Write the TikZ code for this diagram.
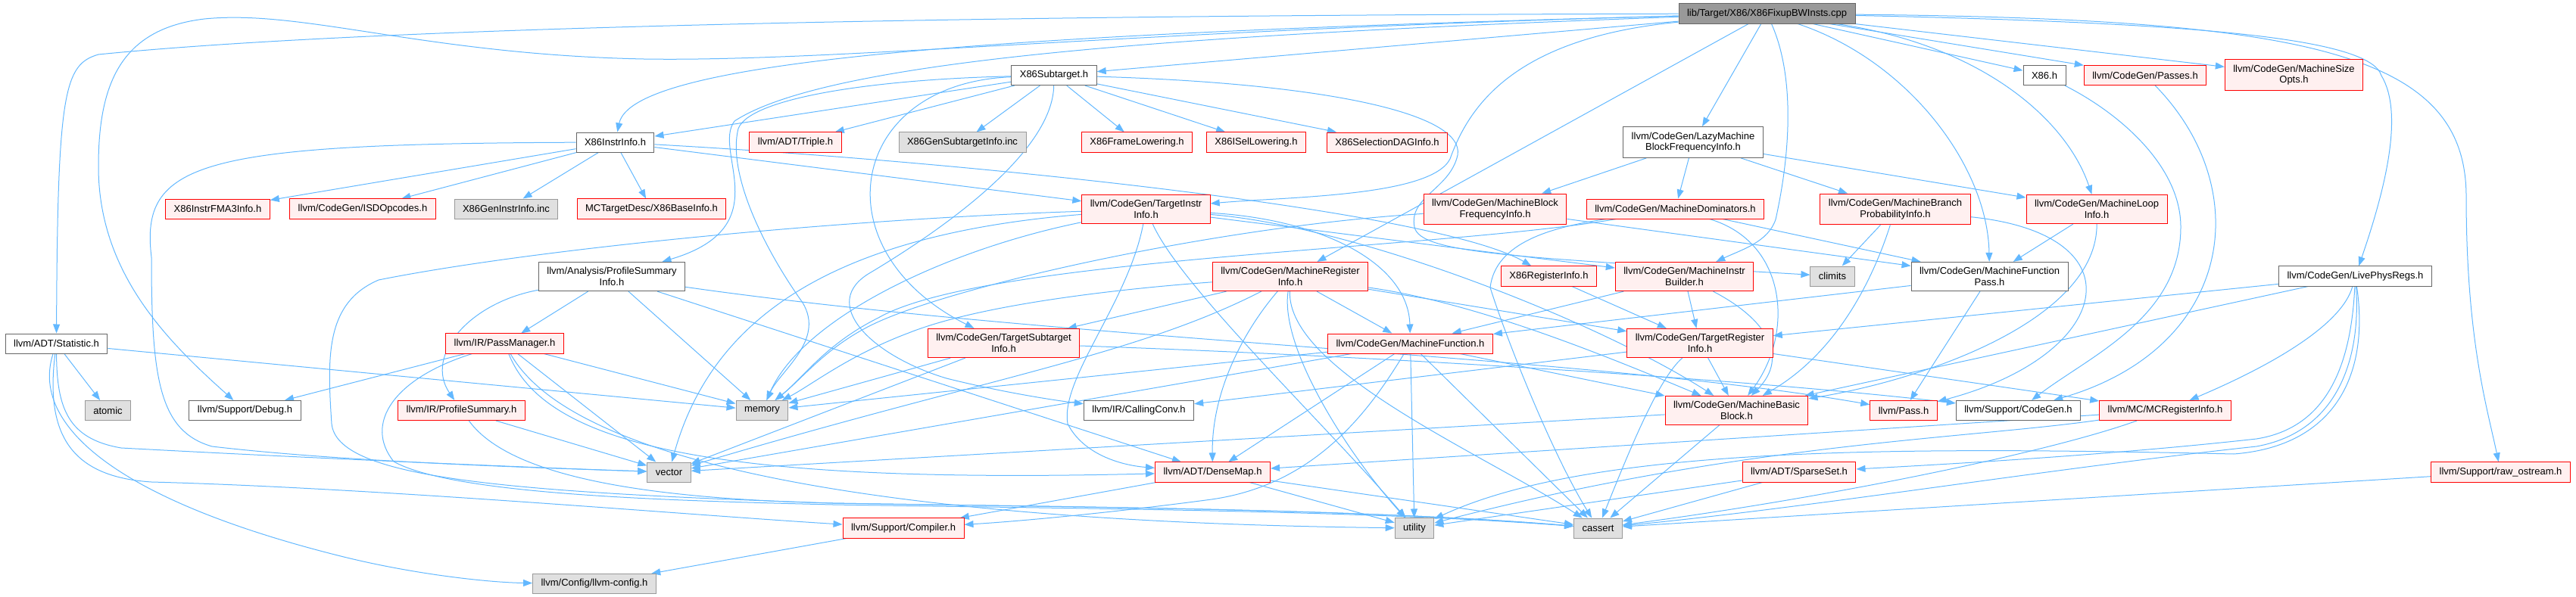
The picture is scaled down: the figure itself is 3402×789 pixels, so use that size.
\documentclass[tikz,border=0pt]{standalone}
\usepackage{fontspec}
\setmainfont{Liberation Sans}
\usetikzlibrary{arrows.meta}
\definecolor{EdgeBlue}{HTML}{63B8FF}
\definecolor{TruncRed}{HTML}{FF0000}
\definecolor{TruncFill}{HTML}{FFF0F0}
\definecolor{SysFill}{HTML}{E0E0E0}
\definecolor{SysLine}{HTML}{999999}
\definecolor{PlainLine}{HTML}{666666}
\definecolor{RootFill}{HTML}{999999}
\pgfdeclarelayer{edges}
\pgfsetlayers{edges,main}

\begin{document}
\begin{tikzpicture}[
    x=1pt, y=-1pt,
    every node/.style={font=\fontsize{13}{14.7}\selectfont, align=center, inner xsep=11pt, inner ysep=7pt, minimum height=26pt, line width=1pt},
    srcfile/.style={rectangle, draw=PlainLine, fill=RootFill},
    header/.style={rectangle, draw=PlainLine, fill=white},
    truncated/.style={rectangle, draw=TruncRed, fill=TruncFill},
    syshdr/.style={rectangle, draw=SysLine, fill=SysFill},
    arrow/.style={-{Stealth[length=12pt, width=9pt, inset=0pt]}, draw=EdgeBlue, line width=1pt}
  ]
    \useasboundingbox (0,0) rectangle (3402,789);

    % Source file
    \node[srcfile] (root) at (2333.5, 18) {lib/Target/X86/X86FixupBWInsts.cpp};

    % Rank 1
    \node[header] (sub) at (1392, 99.5) {X86Subtarget.h};
    \node[header] (xh) at (2700, 99.5) {X86.h};
    \node[truncated] (passes) at (2833, 99.5) {llvm/CodeGen/Passes.h};
    \node[truncated] (sizeopts) at (3029.5, 99) {llvm/CodeGen/MachineSize\\Opts.h};

    % Rank 2
    \node[header] (instrinfo) at (812.5, 188) {X86InstrInfo.h};
    \node[truncated] (triple) at (1050.5, 188) {llvm/ADT/Triple.h};
    \node[syshdr] (gensub) at (1271, 188) {X86GenSubtargetInfo.inc};
    \node[truncated] (framelow) at (1501.5, 188) {X86FrameLowering.h};
    \node[truncated] (isel) at (1659, 188) {X86ISelLowering.h};
    \node[truncated] (seldag) at (1832, 188) {X86SelectionDAGInfo.h};
    \node[header] (lazy) at (2236, 188) {llvm/CodeGen/LazyMachine\\BlockFrequencyInfo.h};

    % Rank 3
    \node[truncated] (fma) at (287.5, 276) {X86InstrFMA3Info.h};
    \node[truncated] (isd) at (479, 276) {llvm/CodeGen/ISDOpcodes.h};
    \node[syshdr] (geninstr) at (668.5, 276) {X86GenInstrInfo.inc};
    \node[truncated] (baseinfo) at (860.5, 276) {MCTargetDesc/X86BaseInfo.h};
    \node[truncated] (tii) at (1513.5, 276.5) {llvm/CodeGen/TargetInstr\\Info.h};
    \node[truncated] (mbfi) at (1974.5, 276.5) {llvm/CodeGen/MachineBlock\\FrequencyInfo.h};
    \node[truncated] (mdom) at (2212.5, 276) {llvm/CodeGen/MachineDominators.h};
    \node[truncated] (mbpi) at (2503, 276.5) {llvm/CodeGen/MachineBranch\\ProbabilityInfo.h};
    \node[truncated] (mli) at (2769, 276.5) {llvm/CodeGen/MachineLoop\\Info.h};

    % Rank 4
    \node[header] (psi) at (808, 365.5) {llvm/Analysis/ProfileSummary\\Info.h};
    \node[truncated] (mri) at (1704, 365.5) {llvm/CodeGen/MachineRegister\\Info.h};
    \node[truncated] (xri) at (2045.5, 365) {X86RegisterInfo.h};
    \node[truncated] (mib) at (2224.5, 365.5) {llvm/CodeGen/MachineInstr\\Builder.h};
    \node[syshdr] (climits) at (2420, 365) {climits};
    \node[header] (mfp) at (2627.5, 365.5) {llvm/CodeGen/MachineFunction\\Pass.h};
    \node[header] (lpr) at (3110.5, 365) {llvm/CodeGen/LivePhysRegs.h};

    % Rank 5
    \node[header] (stat) at (74.5, 454) {llvm/ADT/Statistic.h};
    \node[truncated] (pm) at (666.5, 454) {llvm/IR/PassManager.h};
    \node[truncated] (tsi) at (1325.5, 453.5) {llvm/CodeGen/TargetSubtarget\\Info.h};
    \node[truncated] (mf) at (1862.5, 454) {llvm/CodeGen/MachineFunction.h};
    \node[truncated] (tri) at (2245, 453.5) {llvm/CodeGen/TargetRegister\\Info.h};

    % Rank 6
    \node[syshdr] (atomic) at (142.5, 542.5) {atomic};
    \node[header] (debug) at (323.5, 542.5) {llvm/Support/Debug.h};
    \node[truncated] (ps) at (609.5, 542.5) {llvm/IR/ProfileSummary.h};
    \node[syshdr] (memory) at (1006.5, 542.5) {memory};
    \node[header] (cconv) at (1504, 542.5) {llvm/IR/CallingConv.h};
    \node[truncated] (mbb) at (2293.5, 542.5) {llvm/CodeGen/MachineBasic\\Block.h};
    \node[truncated] (pass) at (2514, 542.5) {llvm/Pass.h};
    \node[header] (cgen) at (2665.5, 542.5) {llvm/Support/CodeGen.h};
    \node[truncated] (mcri) at (2859.5, 542.5) {llvm/MC/MCRegisterInfo.h};

    % Rank 7
    \node[syshdr] (vector) at (883.5, 624) {vector};
    \node[truncated] (dmap) at (1601.5, 624) {llvm/ADT/DenseMap.h};
    \node[truncated] (sset) at (2376, 624) {llvm/ADT/SparseSet.h};
    \node[truncated] (raw) at (3302.5, 624) {llvm/Support/raw\_ostream.h};

    % Rank 8 and 9
    \node[truncated] (compiler) at (1193, 698) {llvm/Support/Compiler.h};
    \node[syshdr] (utility) at (1868, 698) {utility};
    \node[syshdr] (cassert) at (2110.5, 698) {cassert};
    \node[syshdr] (config) at (785, 771.5) {llvm/Config/llvm-config.h};

    \begin{pgfonlayer}{edges}
    % Includes of the source file
    \draw[arrow] (root) -- (sub);
    \draw[arrow] (root) .. controls (1300,45) and (835,80) .. (instrinfo);
    \draw[arrow] (root) .. controls (1300,20) and (500,35) .. (130,72) .. controls (85,85) and (76,120) .. (stat);
    \draw[arrow] (root) .. controls (1500,40) and (1100,82) .. (850,78) .. controls (560,72) and (400,12) .. (270,25) .. controls (160,38) and (130,110) .. (130,220) .. controls (130,360) and (220,450) .. (debug);
    \draw[arrow] (root) .. controls (1600,45) and (1100,75) .. (970,160) .. controls (940,200) and (1030,300) .. (psi);
    \draw[arrow] (root) .. controls (2000,50) and (1940,140) .. (1915,210) .. controls (1890,260) and (1700,260) .. (tii);
    \draw[arrow] (root) -- (mri);
    \draw[arrow] (root) -- (lazy);
    \draw[arrow] (root) .. controls (2370,100) and (2365,200) .. (2345,290) .. controls (2335,320) and (2300,330) .. (mib);
    \draw[arrow] (root) .. controls (2520,80) and (2625,220) .. (mfp);
    \draw[arrow] (root) .. controls (2620,60) and (2730,160) .. (mli);
    \draw[arrow] (root) -- (xh);
    \draw[arrow] (root) -- (passes);
    \draw[arrow] (root) -- (sizeopts);
    \draw[arrow] (root) .. controls (2900,30) and (3130,50) .. (3145,100) .. controls (3175,150) and (3150,250) .. (lpr);
    \draw[arrow] (root) .. controls (3050,25) and (3257,70) .. (3257,260) .. controls (3257,450) and (3285,540) .. (raw);

    % X86Subtarget.h
    \draw[arrow] (sub) -- (instrinfo);
    \draw[arrow] (sub) -- (triple);
    \draw[arrow] (sub) -- (gensub);
    \draw[arrow] (sub) -- (framelow);
    \draw[arrow] (sub) -- (isel);
    \draw[arrow] (sub) -- (seldag);
    \draw[arrow] (sub) .. controls (1120,110) and (1080,330) .. (tsi);
    \draw[arrow] (sub) .. controls (1150,105) and (990,130) .. (975,170) .. controls (960,230) and (1010,330) .. (1060,400) .. controls (1090,450) and (1030,490) .. (memory);
    \draw[arrow] (sub) .. controls (1390,200) and (1250,300) .. (1150,360) .. controls (1080,400) and (1150,470) .. (1250,500) .. controls (1330,520) and (1400,530) .. (cconv);
    \draw[arrow] (sub) .. controls (1750,110) and (1935,150) .. (1925,205) .. controls (1915,250) and (1860,260) .. (1868,300) .. controls (1875,335) and (2000,340) .. (climits);

    % X86InstrInfo.h
    \draw[arrow] (instrinfo) -- (fma);
    \draw[arrow] (instrinfo) -- (isd);
    \draw[arrow] (instrinfo) -- (geninstr);
    \draw[arrow] (instrinfo) -- (baseinfo);
    \draw[arrow] (instrinfo) -- (tii);
    \draw[arrow] (instrinfo) .. controls (1300,215) and (1900,280) .. (xri);
    \draw[arrow] (instrinfo) .. controls (260,190) and (185,215) .. (200,340) .. controls (200,500) and (210,570) .. (280,590) .. controls (450,610) and (700,618) .. (vector);

    % TargetInstrInfo.h
    \draw[arrow] (tii) .. controls (1100,310) and (940,420) .. (vector);
    \draw[arrow] (tii) .. controls (1250,330) and (1060,420) .. (memory);
    \draw[arrow] (tii) .. controls (1490,400) and (1400,500) .. (1410,560) .. controls (1430,600) and (1480,615) .. (dmap);
    \draw[arrow] (tii) .. controls (1750,290) and (1860,350) .. (mf);
    \draw[arrow] (tii) .. controls (1800,300) and (2120,430) .. (mbb);
    \draw[arrow] (tii) -- (mib);
    \draw[arrow] (tii) .. controls (1560,380) and (1750,560) .. (utility);
    \draw[arrow] (tii) .. controls (1100,290) and (700,330) .. (500,370) .. controls (430,400) and (432,470) .. (438,560) .. controls (445,630) and (650,650) .. (1100,665) .. controls (1400,670) and (1800,672) .. (cassert);

    % Lazy block frequency
    \draw[arrow] (lazy) -- (mbfi);
    \draw[arrow] (lazy) -- (mdom);
    \draw[arrow] (lazy) -- (mbpi);
    \draw[arrow] (lazy) -- (mli);
    \draw[arrow] (mbfi) .. controls (1600,300) and (1250,380) .. (1150,430) .. controls (1090,460) and (1060,500) .. (memory);
    \draw[arrow] (mbfi) -- (mfp);
    \draw[arrow] (mdom) .. controls (2360,320) and (2370,440) .. (mbb);
    \draw[arrow] (mdom) -- (mfp);
    \draw[arrow] (mdom) .. controls (2050,300) and (1975,320) .. (1968,380) .. controls (1990,450) and (2050,600) .. (cassert);
    \draw[arrow] (mdom) .. controls (1900,330) and (1300,340) .. (1160,420) .. controls (1090,455) and (1060,500) .. (memory);
    \draw[arrow] (mbpi) -- (climits);
    \draw[arrow] (mbpi) .. controls (2470,380) and (2420,470) .. (mbb);
    \draw[arrow] (mbpi) .. controls (2830,310) and (2790,470) .. (pass);
    \draw[arrow] (mli) -- (mfp);
    \draw[arrow] (mli) .. controls (2770,420) and (2550,500) .. (mbb);
    \draw[arrow] (mfp) -- (mf);
    \draw[arrow] (mfp) -- (pass);

    % Registers and builders
    \draw[arrow] (xri) -- (tri);
    \draw[arrow] (mib) -- (mf);
    \draw[arrow] (mib) -- (tri);
    \draw[arrow] (mib) .. controls (2330,420) and (2365,470) .. (mbb);
    \draw[arrow] (lpr) -- (tri);
    \draw[arrow] (lpr) -- (mbb);
    \draw[arrow] (lpr) .. controls (3090,440) and (2960,500) .. (mcri);
    \draw[arrow] (lpr) .. controls (3105,480) and (3075,565) .. (2980,580) .. controls (2800,600) and (2600,612) .. (sset);
    \draw[arrow] (lpr) .. controls (3118,470) and (3090,570) .. (2980,590) .. controls (2700,620) and (2400,670) .. (cassert);
    \draw[arrow] (lpr) .. controls (3130,500) and (3080,590) .. (2950,600) .. controls (2500,590) and (2100,590) .. (utility);
    \draw[arrow] (mri) -- (mf);
    \draw[arrow] (mri) -- (tsi);
    \draw[arrow] (mri) .. controls (1950,400) and (2120,470) .. (mbb);
    \draw[arrow] (mri) -- (tri);
    \draw[arrow] (mri) .. controls (1500,380) and (1300,400) .. (1200,440) .. controls (1120,470) and (1070,510) .. (memory);
    \draw[arrow] (mri) .. controls (1500,470) and (1300,500) .. (vector);
    \draw[arrow] (mri) .. controls (1640,440) and (1600,520) .. (dmap);
    \draw[arrow] (mri) .. controls (1690,460) and (1780,600) .. (utility);
    \draw[arrow] (mri) .. controls (1700,490) and (1960,600) .. (cassert);

    % Profile summary
    \draw[arrow] (psi) -- (pm);
    \draw[arrow] (psi) -- (memory);
    \draw[arrow] (psi) -- (dmap);
    \draw[arrow] (psi) .. controls (1400,450) and (2100,470) .. (pass);
    \draw[arrow] (psi) .. controls (620,400) and (560,470) .. (ps);

    % Statistic.h
    \draw[arrow] (stat) -- (atomic);
    \draw[arrow] (stat) -- (memory);
    \draw[arrow] (stat) .. controls (75,540) and (90,580) .. (160,592) .. controls (400,605) and (700,618) .. (vector);
    \draw[arrow] (stat) .. controls (60,570) and (90,630) .. (200,637) .. controls (500,645) and (900,680) .. (compiler);
    \draw[arrow] (stat) .. controls (40,560) and (150,660) .. (450,735) .. controls (550,760) and (650,770) .. (config);

    % PassManager.h
    \draw[arrow] (pm) -- (debug);
    \draw[arrow] (pm) -- (memory);
    \draw[arrow] (pm) -- (vector);
    \draw[arrow] (pm) .. controls (720,590) and (950,640) .. (dmap);
    \draw[arrow] (pm) .. controls (760,620) and (1200,690) .. (utility);
    \draw[arrow] (pm) .. controls (520,500) and (480,560) .. (520,610) .. controls (600,655) and (900,662) .. (1100,667) .. controls (1400,672) and (1800,674) .. (cassert);
    \draw[arrow] (ps) -- (vector);
    \draw[arrow] (ps) .. controls (680,640) and (900,660) .. (1100,665) .. controls (1400,670) and (1800,672) .. (cassert);

    % Subtarget, function and register info
    \draw[arrow] (tsi) -- (memory);
    \draw[arrow] (tsi) -- (vector);
    \draw[arrow] (tsi) .. controls (1800,470) and (2300,500) .. (cgen);
    \draw[arrow] (mf) -- (dmap);
    \draw[arrow] (mf) -- (mbb);
    \draw[arrow] (mf) -- (utility);
    \draw[arrow] (mf) -- (cassert);
    \draw[arrow] (mf) -- (memory);
    \draw[arrow] (mf) -- (vector);
    \draw[arrow] (mf) .. controls (1810,540) and (1740,640) .. (1600,660) .. controls (1450,680) and (1330,690) .. (compiler);
    \draw[arrow] (tri) -- (mbb);
    \draw[arrow] (tri) .. controls (2190,500) and (2150,600) .. (cassert);
    \draw[arrow] (tri) -- (cconv);
    \draw[arrow] (tri) -- (mcri);
    \draw[arrow] (mbb) -- (cassert);
    \draw[arrow] (mbb) -- (vector);
    \draw[arrow] (mcri) -- (dmap);
    \draw[arrow] (mcri) .. controls (2700,600) and (2400,660) .. (cassert);
    \draw[arrow] (mcri) .. controls (2600,580) and (2300,585) .. (utility);

    % Lower headers
    \draw[arrow] (dmap) -- (compiler);
    \draw[arrow] (dmap) -- (utility);
    \draw[arrow] (dmap) -- (cassert);
    \draw[arrow] (sset) -- (utility);
    \draw[arrow] (sset) -- (cassert);
    \draw[arrow] (raw) -- (cassert);
    \draw[arrow] (compiler) -- (config);
    \draw[arrow] (xh) .. controls (2800,150) and (2880,220) .. (2880,300) .. controls (2880,420) and (2760,470) .. (cgen);
    \draw[arrow] (passes) .. controls (2980,250) and (2950,460) .. (cgen);
    \end{pgfonlayer}
  \end{tikzpicture}
\end{document}
